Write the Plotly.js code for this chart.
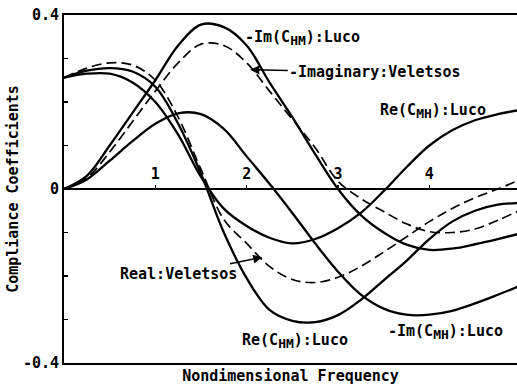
<!DOCTYPE html>
<html>
<head>
<meta charset="utf-8">
<script src="https://cdn.plot.ly/plotly-3.0.1.min.js"></script>
<style>
  html, body { margin: 0; padding: 0; background: #fff; }
  #chart { width: 517px; height: 385px; }
</style>
</head>
<body>
<div id="chart"></div>
<script>
// Nondimensional frequency samples
const freq = [0, 0.25, 0.5, 0.75, 1, 1.25, 1.5, 1.75, 2, 2.25, 2.5, 2.75, 3, 3.25, 3.5, 3.75, 4, 4.25, 4.5, 4.75, 5];

// Luco solutions
const negImCHM = [0, 0.03, 0.1, 0.175, 0.25, 0.33, 0.378, 0.372, 0.33, 0.245, 0.165, 0.08, 0.0, -0.06, -0.1, -0.128, -0.14, -0.137, -0.127, -0.115, -0.102];
const negImCMH = [0, 0.022, 0.065, 0.11, 0.15, 0.174, 0.172, 0.138, 0.075, 0.012, -0.055, -0.125, -0.19, -0.243, -0.275, -0.289, -0.289, -0.28, -0.263, -0.243, -0.222];
const reCHM    = [0.256, 0.272, 0.278, 0.27, 0.235, 0.15, 0.035, -0.1, -0.205, -0.278, -0.303, -0.306, -0.29, -0.255, -0.21, -0.165, -0.115, -0.075, -0.05, -0.036, -0.032];
const reCMH    = [0.256, 0.265, 0.265, 0.245, 0.2, 0.125, 0.028, -0.045, -0.085, -0.112, -0.125, -0.115, -0.09, -0.055, -0.005, 0.05, 0.1, 0.135, 0.158, 0.172, 0.182];

// Veletsos solutions
const imagVeletsos = [0, 0.025, 0.085, 0.155, 0.225, 0.29, 0.333, 0.33, 0.29, 0.225, 0.16, 0.095, 0.018, -0.022, -0.052, -0.08, -0.098, -0.1, -0.092, -0.072, -0.048];
const realVeletsos = [0.256, 0.278, 0.29, 0.285, 0.25, 0.165, 0.045, -0.07, -0.125, -0.178, -0.208, -0.215, -0.203, -0.178, -0.145, -0.11, -0.075, -0.045, -0.02, 0.0, 0.022];

// Axis ticks
const xTickVals = [1, 2, 3, 4];
const xTickText = ['1', '2', '3', '4'];
const yTickVals = [-0.4, 0, 0.4];
const yTickText = ['-0.4', '0', '0.4'];

const FONT = 'DejaVu Sans Mono, Liberation Mono, monospace';
const solid = { color: '#000', width: 2.3, shape: 'spline', smoothing: 1 };
const dashed = { color: '#000', width: 1.7, shape: 'spline', smoothing: 1, dash: '10px,5px' };

const series = [
  { name: '-Im(C_HM):Luco', y: negImCHM, line: solid },
  { name: 'Imaginary:Veletsos', y: imagVeletsos, line: dashed },
  { name: '-Im(C_MH):Luco', y: negImCMH, line: solid },
  { name: 'Re(C_HM):Luco', y: reCHM, line: solid },
  { name: 'Real:Veletsos', y: realVeletsos, line: dashed },
  { name: 'Re(C_MH):Luco', y: reCMH, line: solid }
];

const traces = series.map(s => ({
  type: 'scatter', mode: 'lines', x: freq, y: s.y, name: s.name,
  line: s.line, hoverinfo: 'skip'
}));

// Anchor trace so the frequency tick axis drawn along y = 0 is built
traces.push({
  type: 'scatter', mode: 'lines', x: [0], y: [0], xaxis: 'x2', yaxis: 'y',
  line: { color: '#000', width: 0 }, hoverinfo: 'skip', showlegend: false
});

const txt = { family: FONT, size: 15, color: '#000', weight: 'bold' };
const sub = s => '<sub><span style="font-size:13px">' + s + '</span></sub>';

const layout = {
  width: 517, height: 385,
  margin: { l: 64, r: 0, t: 15, b: 22 },
  paper_bgcolor: '#fff', plot_bgcolor: '#fff',
  showlegend: false,
  font: txt,
  xaxis: {
    range: [0, 4.96], showgrid: false, zeroline: false,
    showline: true, mirror: true, linecolor: '#000', linewidth: 2,
    ticks: '', showticklabels: false,
    title: { text: 'Nondimensional Frequency', font: txt, standoff: 14 }
  },
  xaxis2: {
    overlaying: 'x', anchor: 'free', position: 0.5, side: 'top',
    range: [0, 4.96], showgrid: false, zeroline: false, showline: false,
    tickmode: 'array', tickvals: xTickVals, ticktext: xTickText,
    ticks: 'outside', ticklen: 4, tickwidth: 1.5, tickcolor: '#000',
    tickfont: txt
  },
  yaxis: {
    range: [-0.4, 0.4], showgrid: false,
    zeroline: true, zerolinecolor: '#000', zerolinewidth: 2,
    showline: true, linecolor: '#000', linewidth: 2,
    tickmode: 'array', tickvals: yTickVals, ticktext: yTickText,
    ticks: 'inside', ticklen: 4, tickwidth: 1.5, tickcolor: '#000',
    minor: { dtick: 0.1, tick0: 0, ticks: 'inside', ticklen: 4, tickwidth: 1.5, tickcolor: '#000', showgrid: false },
    tickfont: txt,
    title: { text: 'Compliance Coefficients', font: txt, standoff: 1 }
  },
  annotations: [
    { xref: 'x', yref: 'y', x: 1.96, y: 0.347, xanchor: 'left', yanchor: 'middle',
      text: '-Im(C' + sub('HM') + '):Luco', showarrow: false, font: txt },
    { xref: 'x', yref: 'y', x: 2.04, y: 0.274, text: '-Imaginary:Veletsos',
      showarrow: true, ax: 125, ay: 2, arrowhead: 2, arrowsize: 1.2, arrowwidth: 1.5,
      arrowcolor: '#000', font: txt },
    { xref: 'x', yref: 'y', x: 3.44, y: 0.18, xanchor: 'left', yanchor: 'middle',
      text: 'Re(C' + sub('MH') + '):Luco', showarrow: false, font: txt },
    { xref: 'x', yref: 'y', x: 2.17, y: -0.157, text: 'Real:Veletsos',
      showarrow: true, ax: -84, ay: 17, arrowhead: 2, arrowsize: 1.2, arrowwidth: 1.5,
      arrowcolor: '#000', font: txt },
    { xref: 'x', yref: 'y', x: 1.93, y: -0.35, xanchor: 'left', yanchor: 'middle',
      text: 'Re(C' + sub('HM') + '):Luco', showarrow: false, font: txt },
    { xref: 'x', yref: 'y', x: 3.53, y: -0.329, xanchor: 'left', yanchor: 'middle',
      text: '-Im(C' + sub('MH') + '):Luco', showarrow: false, font: txt }
  ]
};

Plotly.newPlot('chart', traces, layout, { staticPlot: true, displayModeBar: false });
</script>
</body>
</html>
